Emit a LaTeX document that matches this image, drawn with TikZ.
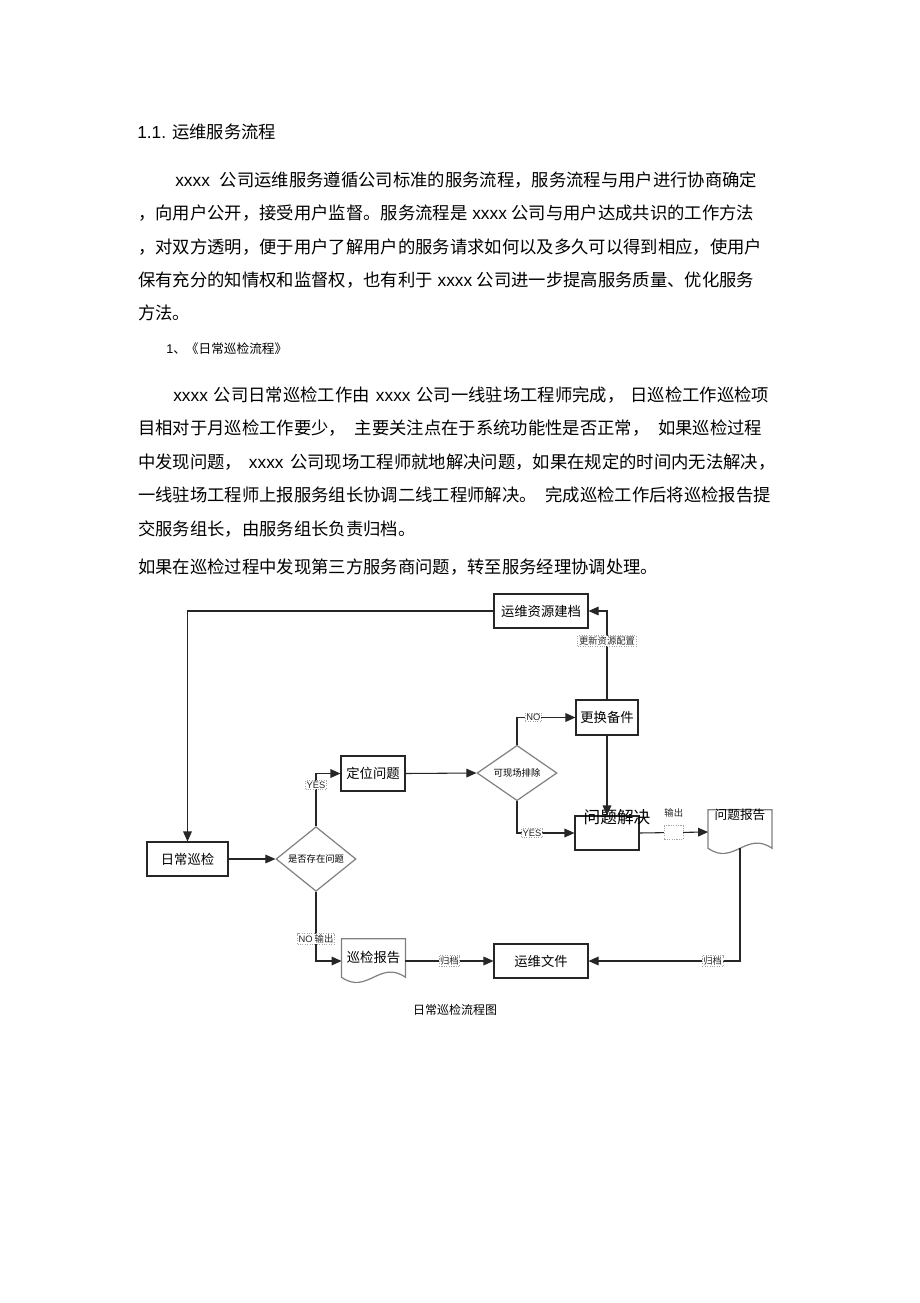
\documentclass[tikz,border=0pt]{standalone}
\usepackage{fontspec}
\setmainfont{Liberation Sans}
\newfontfamily\cjk{Noto Sans CJK SC}
\newfontfamily\latf{Liberation Sans}
\usetikzlibrary{arrows.meta,shapes.geometric,calc}
\newcommand\xx{{\latf xxxx}}
\newcommand\docpath[1]{%
  \draw[docline] (#1.north west) -- (#1.north east) -- ($(#1.south east)+(0,-6)$)
    .. controls ($(#1.south west)!0.6!(#1.south east)+(0,-24)$) and ($(#1.south west)!0.4!(#1.south east)+(0,12)$)
    .. ($(#1.south west)+(0,-6)$) -- cycle;}
\begin{document}
\begin{tikzpicture}[x=0.75pt,y=-0.75pt,
  body/.style={anchor=west, inner sep=0pt, font=\cjk\fontsize{13pt}{15pt}\selectfont, text=black},
  box/.style={draw=black!85, line width=0.8pt, inner sep=0pt, font=\cjk\fontsize{10pt}{12pt}\selectfont},
  dia/.style={diamond, draw=black!50, line width=0.9pt, inner sep=0pt, minimum width=60pt, minimum height=40.5pt, font=\cjk\fontsize{7pt}{8pt}\selectfont},
  docn/.style={inner sep=0pt, minimum width=47.5pt, minimum height=33pt},
  docline/.style={draw=black!50, line width=0.9pt},
  arr/.style={draw=black!85, line width=0.8pt, -{Triangle[length=7.5pt,width=6.5pt]}},
  lab/.style={draw=black!35, densely dotted, fill=white, inner sep=0.8pt, font=\cjk\fontsize{7pt}{8pt}\selectfont, text=black!85},
  labl/.style={lab, font=\latf\fontsize{7pt}{8pt}\selectfont},
  ]
\fill[white] (0,0) rectangle (920,1303);
\path[use as bounding box] (0,0) rectangle (920,1303);

% ---- text ----
\node[body] (h1) at (137,132) {{\latf 1.1.}\hspace{4.5pt}运维服务流程};
\node[body] (p1a) at (175,180) {\xx\hspace{7.5pt}公司运维服务遵循公司标准的服务流程，服务流程与用户进行协商确定};
\node[body] (p1b) at (138,213) {，向用户公开，接受用户监督。服务流程是\hspace{3.5pt}\xx\hspace{3.5pt}公司与用户达成共识的工作方法};
\node[body] (p1c) at (138,247) {，对双方透明，便于用户了解用户的服务请求如何以及多久可以得到相应，使用户};
\node[body] (p1d) at (138,280) {保有充分的知情权和监督权，也有利于\hspace{3.5pt}\xx\hspace{3.5pt}公司进一步提高服务质量、优化服务};
\node[body] (p1e) at (138,313) {方法。};
\node[body, font=\cjk\fontsize{9.5pt}{11pt}\selectfont] (s1) at (166,349) {{\latf 1}、《日常巡检流程》};
\node[body] (p2a) at (173,395) {\xx\hspace{4.5pt}公司日常巡检工作由\hspace{4.5pt}\xx\hspace{4.5pt}公司一线驻场工程师完成，\hspace{4.5pt}日巡检工作巡检项};
\node[body] (p2b) at (138,428) {目相对于月巡检工作要少，\hspace{6.5pt}主要关注点在于系统功能性是否正常，\hspace{6.5pt}如果巡检过程};
\node[body] (p2c) at (138,462) {中发现问题，\hspace{5pt}\xx\hspace{5pt}公司现场工程师就地解决问题，如果在规定的时间内无法解决，};
\node[body] (p2d) at (138,495) {一线驻场工程师上报服务组长协调二线工程师解决。\hspace{6.5pt}完成巡检工作后将巡检报告提};
\node[body] (p2e) at (138,529) {交服务组长，由服务组长负责归档。};
\node[body] (p3) at (138,567) {如果在巡检过程中发现第三方服务商问题，转至服务经理协调处理。};

% ---- flowchart nodes ----
\node[box, minimum width=70.5pt, minimum height=25.5pt] (zyjd) at (541,611) {运维资源建档};
\node[box, minimum width=60.75pt, minimum height=25.5pt] (rcxj) at (187.5,859) {日常巡检};
\node[dia] (d1) at (316,859) {是否存在问题};
\node[box, minimum width=48pt, minimum height=26.25pt] (dwwt) at (373,773.5) {定位问题};
\node[dia] (d2) at (517,773) {可现场排除};
\node[box, minimum width=46.5pt, minimum height=26.25pt] (ghbj) at (607,717.5) {更换备件};
\node[box, minimum width=48pt, minimum height=25.5pt] (wtjj) at (607,833) {};
\node[docn] (wtbg) at (740,832) {};
\node[docn] (xjbg) at (373.5,961) {};
\docpath{wtbg}
\docpath{xjbg}
\node[font=\cjk\fontsize{12.5pt}{14pt}\selectfont, inner sep=0pt] (wtjjt) at (617,817) {问题解决};
\node[font=\cjk\fontsize{9.5pt}{11pt}\selectfont, inner sep=0pt] (wtbgt) at (740,815) {问题报告};
\node[font=\cjk\fontsize{10pt}{12pt}\selectfont, inner sep=0pt] (xjbgt) at (373.5,957) {巡检报告};
\node[box, minimum width=70.5pt, minimum height=25.5pt] (ywwj) at (541,961) {运维文件};
\coordinate (wtbgb) at ($(wtbg.south)+(0,-6)$);
\node[font=\cjk\fontsize{9pt}{11pt}\selectfont, inner sep=0pt] (cap) at (455,1010) {日常巡检流程图};

% ---- connectors ----
\draw[arr] (zyjd.west) -| (rcxj.north);
\draw[arr] (rcxj.east) -- (d1.west);
\draw[arr] (d1.north) |- node[labl, pos=0.39] {YES} (dwwt.west);
\draw[arr] (dwwt.east) -- (d2.west);
\draw[arr] (d2.north) |- node[labl, pos=0.64] {NO} (ghbj.west);
\draw[arr] (ghbj.north) |- node[lab, pos=0.33] {更新资源配置} (zyjd.east);
\draw[arr] (ghbj.south) -- (wtjj.north);
\draw[arr] (d2.south) |- node[labl, pos=0.63] {YES} (wtjj.west);
\draw[arr] (wtjj.east) -- node[lab, minimum width=14pt, minimum height=10pt,
   label={[label distance=2pt, font=\cjk\fontsize{7pt}{8pt}\selectfont, text=black!85]above:输出}] {} (wtbg.west);
\draw[arr] (wtbgb) |- node[lab, pos=0.59] {归档} (ywwj.east);
\draw[arr] (d1.south) |- node[lab, pos=0.34] {{\latf NO} 输出} (xjbg.west);
\draw[arr] (xjbg.east) -- node[lab] {归档} (ywwj.west);
\end{tikzpicture}
\end{document}
